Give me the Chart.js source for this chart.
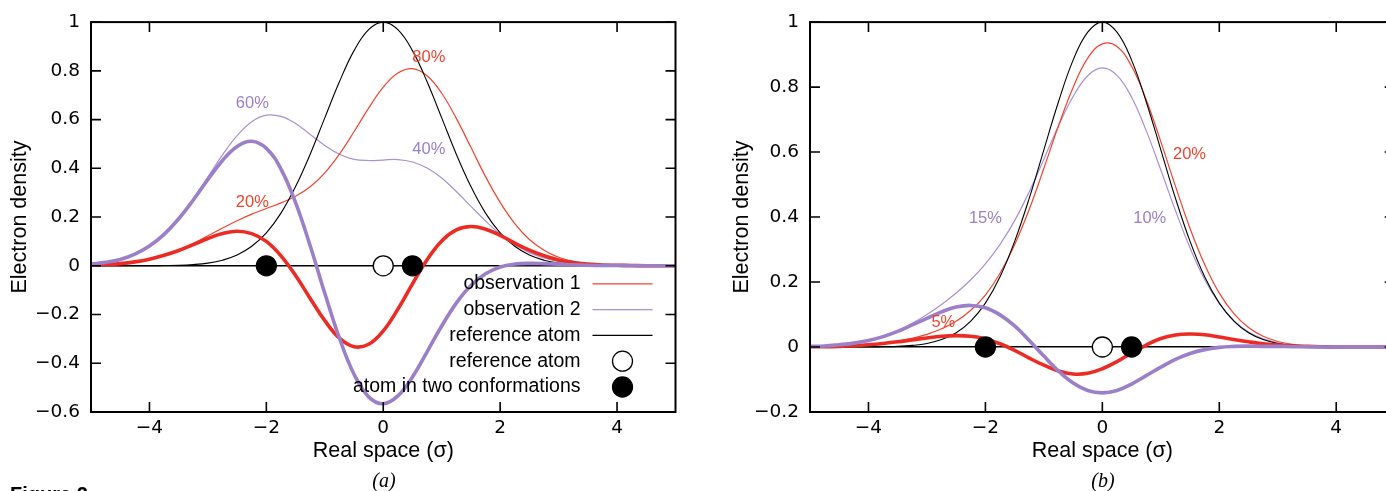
<!DOCTYPE html>
<html>
<head>
<meta charset="utf-8">
<script src="https://cdn.jsdelivr.net/npm/chart.js@4.4.1/dist/chart.umd.min.js"></script>
<style>
  html, body { margin: 0; padding: 0; background: #fff; overflow: hidden; }
  #page { position: relative; width: 1386px; height: 491px; overflow: hidden; }
  canvas { position: absolute; top: 0; }
  #panelA { left: 0; }
  #panelB { left: 700px; }
  .caption { position: absolute; top: 469px; width: 40px; text-align: center;
             font: italic 20px "Liberation Serif", "Times New Roman", serif; }
  #figLabel { position: absolute; left: 10px; top: 483px;
              font: bold 20px "Liberation Sans", Arial, sans-serif; }
</style>
</head>
<body>
<div id="page">
  <canvas id="panelA" width="690" height="491"></canvas>
  <canvas id="panelB" width="710" height="491"></canvas>
  <div class="caption" style="left:364px">(a)</div>
  <div class="caption" style="left:1083px">(b)</div>
  <div id="figLabel">Figure 2</div>
</div>
<script>
// sample positions along the real-space axis (sigma units)
const xValues = [-5, -4.75, -4.5, -4.25, -4, -3.75, -3.5, -3.25, -3, -2.75, -2.5, -2.25, -2, -1.75, -1.5, -1.25,
  -1, -0.75, -0.5, -0.25, 0, 0.25, 0.5, 0.75, 1, 1.25, 1.5, 1.75, 2, 2.25, 2.5, 2.75, 3, 3.25, 3.5, 3.75,
  4, 4.25, 4.5, 4.75, 5];

// reference atom density (both panels)
const refAtom = [0, 0, 0, 0, 0, 0.001, 0.002, 0.005, 0.011, 0.023, 0.044, 0.080, 0.135, 0.216, 0.325, 0.458,
  0.607, 0.755, 0.883, 0.969, 1, 0.969, 0.883, 0.755, 0.607, 0.458, 0.325, 0.216, 0.135, 0.080, 0.044, 0.023,
  0.011, 0.005, 0.002, 0.001, 0, 0, 0, 0, 0];

// panel (a): observations and difference from the reference
const obsA1 = [0.002, 0.005, 0.009, 0.016, 0.027, 0.043, 0.065, 0.092, 0.123, 0.155, 0.185, 0.212, 0.235, 0.258,
  0.285, 0.324, 0.381, 0.458, 0.550, 0.647, 0.733, 0.791, 0.809, 0.780, 0.708, 0.605, 0.486, 0.366, 0.260, 0.173,
  0.108, 0.064, 0.035, 0.018, 0.009, 0.004, 0.002, 0.001, 0, 0, 0];
const obsA2 = [0.007, 0.014, 0.026, 0.048, 0.081, 0.130, 0.195, 0.275, 0.365, 0.455, 0.534, 0.591, 0.618, 0.613,
  0.584, 0.539, 0.494, 0.458, 0.437, 0.432, 0.434, 0.436, 0.426, 0.401, 0.360, 0.305, 0.244, 0.184, 0.130, 0.087,
  0.054, 0.032, 0.018, 0.009, 0.004, 0.002, 0.001, 0, 0, 0, 0];
const diffA1 = [0.002, 0.005, 0.009, 0.016, 0.027, 0.043, 0.063, 0.087, 0.112, 0.132, 0.142, 0.132, 0.100, 0.041,
  -0.040, -0.134, -0.225, -0.297, -0.332, -0.322, -0.267, -0.178, -0.074, 0.025, 0.102, 0.147, 0.161, 0.150,
  0.125, 0.093, 0.064, 0.041, 0.024, 0.013, 0.007, 0.003, 0.002, 0.001, 0, 0, 0];
const diffA2 = [0.007, 0.014, 0.026, 0.048, 0.081, 0.129, 0.193, 0.270, 0.354, 0.432, 0.490, 0.511, 0.482, 0.397,
  0.259, 0.082, -0.113, -0.297, -0.445, -0.538, -0.566, -0.534, -0.456, -0.353, -0.247, -0.153, -0.081, -0.033,
  -0.005, 0.007, 0.010, 0.009, 0.007, 0.004, 0.002, 0.001, 0.001, 0, 0, 0, 0];

// panel (b)
const obsB1 = [0.001, 0.001, 0.002, 0.004, 0.007, 0.012, 0.018, 0.027, 0.039, 0.056, 0.079, 0.113, 0.160, 0.227,
  0.315, 0.424, 0.550, 0.681, 0.799, 0.889, 0.933, 0.925, 0.864, 0.761, 0.632, 0.495, 0.365, 0.254, 0.166, 0.103,
  0.060, 0.033, 0.017, 0.008, 0.004, 0.002, 0.001, 0, 0, 0, 0];
const obsB2 = [0.002, 0.003, 0.007, 0.012, 0.021, 0.033, 0.050, 0.073, 0.100, 0.131, 0.166, 0.207, 0.256, 0.316,
  0.389, 0.478, 0.578, 0.681, 0.771, 0.835, 0.859, 0.836, 0.769, 0.666, 0.545, 0.420, 0.305, 0.208, 0.134, 0.081,
  0.046, 0.025, 0.013, 0.006, 0.003, 0.001, 0, 0, 0, 0, 0];
const diffB1 = [0.001, 0.001, 0.002, 0.004, 0.007, 0.011, 0.016, 0.022, 0.028, 0.033, 0.035, 0.033, 0.025, 0.010,
  -0.010, -0.034, -0.056, -0.074, -0.083, -0.081, -0.067, -0.045, -0.018, 0.006, 0.026, 0.037, 0.040, 0.038,
  0.031, 0.023, 0.016, 0.010, 0.006, 0.003, 0.002, 0.001, 0, 0, 0, 0, 0];
const diffB2 = [0.002, 0.003, 0.007, 0.012, 0.020, 0.032, 0.048, 0.068, 0.088, 0.108, 0.123, 0.128, 0.121, 0.099,
  0.065, 0.020, -0.028, -0.074, -0.111, -0.134, -0.141, -0.134, -0.114, -0.088, -0.062, -0.038, -0.020, -0.008,
  -0.001, 0.002, 0.003, 0.002, 0.002, 0.001, 0.001, 0, 0, 0, 0, 0, 0];

// atom positions on the axis
const refAtomX = [0];
const conformerX = [-2, 0.5];

// tick labels
const xTicks = [-4, -2, 0, 2, 4];
const yTicksA = [-0.6, -0.4, -0.2, 0, 0.2, 0.4, 0.6, 0.8, 1];
const yTicksB = [-0.2, 0, 0.2, 0.4, 0.6, 0.8, 1];

const RED = '#ec2b24';
const RED_THIN = '#f0442f';
const PURPLE = '#9b7fc9';
const PURPLE_THIN = '#a891d4';

Chart.defaults.font.family = '"Liberation Sans", Arial, sans-serif';
Chart.defaults.color = '#000';

function toPoints(ys) {
  return xValues.map((x, i) => ({ x: x, y: ys[i] }));
}

function curve(label, ys, color, width, order) {
  return {
    label: label, data: toPoints(ys), borderColor: color, backgroundColor: color,
    borderWidth: width, pointRadius: 0, pointHoverRadius: 0, fill: false,
    tension: 0.4, order: order
  };
}

function atoms(label, xs, fill, order) {
  return {
    label: label, data: xs.map(x => ({ x: x, y: 0 })), showLine: false,
    pointRadius: 10, pointHoverRadius: 10, pointBackgroundColor: fill,
    pointBorderColor: '#000', pointBorderWidth: 1.3, borderColor: '#000',
    backgroundColor: fill, order: order
  };
}

function fmt(v) {
  if (v === 0) return '0';
  return v < 0 ? '\u2212' + Math.abs(v) : String(v);
}

// gnuplot style frame: box with inward ticks on all four sides
const frame = {
  id: 'frame',
  afterDatasetsDraw(chart) {
    const { ctx, chartArea: a, scales: { x, y } } = chart;
    ctx.save();
    ctx.strokeStyle = '#000';
    ctx.lineWidth = 1.6;
    ctx.beginPath();
    x.ticks.forEach(t => {
      const px = x.getPixelForValue(t.value);
      ctx.moveTo(px, a.bottom); ctx.lineTo(px, a.bottom - 10);
      ctx.moveTo(px, a.top); ctx.lineTo(px, a.top + 10);
    });
    y.ticks.forEach(t => {
      const py = y.getPixelForValue(t.value);
      ctx.moveTo(a.left, py); ctx.lineTo(a.left + 10, py);
      ctx.moveTo(a.right, py); ctx.lineTo(a.right - 10, py);
    });
    ctx.stroke();
    ctx.lineWidth = 2;
    ctx.strokeRect(a.left, a.top, a.right - a.left, a.bottom - a.top);
    ctx.restore();
  }
};

// percentage labels placed in data coordinates
const pctLabels = {
  id: 'pctLabels',
  afterDatasetsDraw(chart, args, opts) {
    const { ctx, scales: { x, y } } = chart;
    ctx.save();
    ctx.font = '16.5px "Liberation Sans", Arial, sans-serif';
    ctx.textAlign = 'center';
    ctx.textBaseline = 'middle';
    (opts.items || []).forEach(it => {
      ctx.fillStyle = it.color;
      ctx.fillText(it.text, x.getPixelForValue(it.x), y.getPixelForValue(it.y));
    });
    ctx.restore();
  }
};

// key in the lower right corner: text right-aligned, sample on its right
const insideKey = {
  id: 'insideKey',
  afterDatasetsDraw(chart, args, opts) {
    if (!opts.display) return;
    const { ctx, chartArea: a } = chart;
    const items = chart.data.datasets.filter(d => d.label);
    const textRight = a.right - 95;
    ctx.save();
    ctx.font = '19.5px "Liberation Sans", Arial, sans-serif';
    ctx.textAlign = 'right';
    ctx.textBaseline = 'middle';
    items.forEach((d, i) => {
      const yy = a.bottom - 25 - (items.length - 1 - i) * 25.8;
      ctx.fillStyle = '#000';
      ctx.fillText(d.label, textRight, yy);
      if (d.showLine === false) {
        ctx.beginPath();
        ctx.arc(a.right - 53, yy, 10, 0, Math.PI * 2);
        ctx.fillStyle = d.pointBackgroundColor;
        ctx.fill();
        ctx.lineWidth = d.pointBorderWidth;
        ctx.strokeStyle = '#000';
        ctx.stroke();
      } else {
        ctx.beginPath();
        ctx.moveTo(a.right - 83, yy);
        ctx.lineTo(a.right - 23, yy);
        ctx.lineWidth = 1.3;
        ctx.strokeStyle = d.borderColor;
        ctx.stroke();
      }
    });
    ctx.restore();
  }
};

function makeChart(id, cfg) {
  return new Chart(document.getElementById(id), {
    type: 'line',
    data: { datasets: cfg.datasets },
    options: {
      responsive: false,
      animation: false,
      events: [],
      layout: { padding: { top: 20.5, right: cfg.padRight, left: 0, bottom: 0 } },
      plugins: {
        legend: { display: false },
        tooltip: { enabled: false },
        pctLabels: { items: cfg.labels },
        insideKey: { display: cfg.key }
      },
      scales: {
        x: {
          type: 'linear', min: -5, max: 5,
          afterBuildTicks: s => { s.ticks = xTicks.map(v => ({ value: v })); },
          afterFit: s => { s.height = 79; },
          grid: { display: false, drawTicks: false },
          border: { display: false },
          ticks: { padding: 5, callback: fmt, font: { family: '"DejaVu Sans", sans-serif', size: 18.5 } },
          title: { display: true, text: 'Real space (\u03c3)', font: { size: 21.5 }, padding: { top: 0, bottom: 26.6 } }
        },
        y: {
          type: 'linear', min: cfg.yTicks[0], max: 1,
          afterBuildTicks: s => { s.ticks = cfg.yTicks.map(v => ({ value: v })); },
          afterFit: s => { s.width = cfg.yWidth; },
          grid: {
            drawTicks: false,
            color: c => (c.tick && c.tick.value === 0 ? '#000' : 'rgba(0,0,0,0)'),
            lineWidth: 1.5
          },
          border: { display: false },
          ticks: { padding: 11, callback: fmt, font: { family: '"DejaVu Sans", sans-serif', size: 18.5 } },
          title: { display: true, text: 'Electron density', font: { size: 21.5 }, padding: { top: cfg.titlePad, bottom: 0 } }
        }
      }
    },
    plugins: [frame, pctLabels, insideKey]
  });
}

makeChart('panelA', {
  padRight: 14.5, yWidth: 91, titlePad: 7, yTicks: yTicksA, key: true,
  datasets: [
    curve('observation 1', obsA1, RED_THIN, 1.2, 4),
    curve('observation 2', obsA2, PURPLE_THIN, 1.2, 5),
    curve('reference atom', refAtom, '#000', 1.1, 3),
    curve(undefined, diffA1, RED, 3.6, 2),
    curve(undefined, diffA2, PURPLE, 3.6, 1),
    atoms('reference atom', refAtomX, '#fff', 0),
    atoms('atom in two conformations', conformerX, '#000', 0)
  ],
  labels: [
    { text: '60%', x: -2.24, y: 0.666, color: PURPLE },
    { text: '20%', x: -2.24, y: 0.258, color: RED_THIN },
    { text: '80%', x: 0.78, y: 0.853, color: RED_THIN },
    { text: '40%', x: 0.78, y: 0.476, color: PURPLE }
  ]
});

makeChart('panelB', {
  padRight: 15.3, yWidth: 110, titlePad: 28.8, yTicks: yTicksB, key: false,
  datasets: [
    curve('observation 1', obsB1, RED_THIN, 1.2, 4),
    curve('observation 2', obsB2, PURPLE_THIN, 1.2, 5),
    curve('reference atom', refAtom, '#000', 1.1, 3),
    curve(undefined, diffB1, RED, 3.6, 2),
    curve(undefined, diffB2, PURPLE, 3.6, 1),
    atoms('reference atom', refAtomX, '#fff', 0),
    atoms('atom in two conformations', conformerX, '#000', 0)
  ],
  labels: [
    { text: '15%', x: -2.0, y: 0.397, color: PURPLE },
    { text: '10%', x: 0.81, y: 0.397, color: PURPLE },
    { text: '20%', x: 1.49, y: 0.594, color: RED_THIN },
    { text: '5%', x: -2.72, y: 0.077, color: RED_THIN }
  ]
});
</script>
</body>
</html>
